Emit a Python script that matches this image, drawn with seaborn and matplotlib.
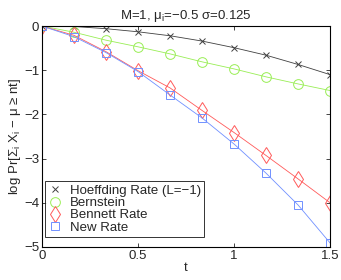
import numpy as np
import pandas as pd
import matplotlib
matplotlib.use("Agg")
import matplotlib.pyplot as plt
import seaborn as sns

# values
t = [0, 1/6, 2/6, 3/6, 4/6, 5/6, 1.0, 7/6, 8/6, 1.5]
hoeffding = [0, -0.01, -0.06, -0.13, -0.22, -0.34, -0.49, -0.66, -0.87, -1.1]
bernstein = [0, -0.14, -0.32, -0.47, -0.63, -0.81, -0.97, -1.15, -1.31, -1.46]
bennett = [0, -0.21, -0.58, -1.01, -1.40, -1.91, -2.41, -2.93, -3.46, -4.0]
new_rate = [0, -0.24, -0.60, -1.03, -1.56, -2.08, -2.67, -3.33, -4.05, -4.91]

labels = ["Hoeffding Rate (L=\u22121)", "Bernstein", "Bennett Rate", "New Rate"]
series = [hoeffding, bernstein, bennett, new_rate]
colors = ["#404040", "#99ee55", "#ff5a5a", "#7090ff"]
markers = ["x", "o", "d", "s"]
msizes = [5, 7, 8, 5.5]

sns.set_style("ticks")
plt.rcParams["font.family"] = ["Liberation Sans", "DejaVu Sans"]
plt.rcParams["mathtext.fontset"] = "custom"
plt.rcParams["mathtext.rm"] = "Liberation Sans"
plt.rcParams["mathtext.it"] = "Liberation Sans"

fig, ax = plt.subplots(figsize=(3.41, 2.8), dpi=100)
fig.subplots_adjust(left=0.123, right=0.968, top=0.907, bottom=0.118)

for y, lab, c, m, ms in zip(series, labels, colors, markers, msizes):
    df = pd.DataFrame({"t": t, "v": y})
    sns.lineplot(data=df, x="t", y="v", ax=ax, color=c, lw=0.6,
                 marker=m, markersize=ms, markerfacecolor="none",
                 markeredgecolor=c, markeredgewidth=0.7, label=lab)

ax.set_xlim(0, 1.5)
ax.set_ylim(-5, 0)
ax.set_xticks([0, 0.5, 1, 1.5])
ax.set_xticklabels(["0", "0.5", "1", "1.5"])
ax.set_yticks([0, -1, -2, -3, -4, -5])
ax.set_yticklabels(["0", "\u22121", "\u22122", "\u22123", "\u22124", "\u22125"])
ax.tick_params(direction="in", length=3, width=0.6, labelsize=9.5, pad=2,
               top=True, right=True)
for s in ax.spines.values():
    s.set_linewidth(0.8)
    s.set_color("black")

ax.set_xlabel("t", fontsize=9.5, labelpad=0)
ax.set_ylabel("log Pr[\u03a3$_i$ X$_i$ \u2212 \u03bc \u2265 nt]", fontsize=9.5, labelpad=1)
ax.set_title("M=1, \u03bc$_i$=\u22120.5 \u03c3=0.125", fontsize=9.5, pad=5)

leg = ax.legend(loc="lower left", bbox_to_anchor=(0.012, 0.045), fontsize=9.5,
                frameon=True, fancybox=False, borderaxespad=0,
                handlelength=1.0, handletextpad=0.6,
                labelspacing=0.0, borderpad=0.25)
leg.get_frame().set_edgecolor("black")
leg.get_frame().set_linewidth(0.7)
for h in leg.legend_handles:
    h.set_linestyle("none")

fig.savefig("out.png", dpi=100)
